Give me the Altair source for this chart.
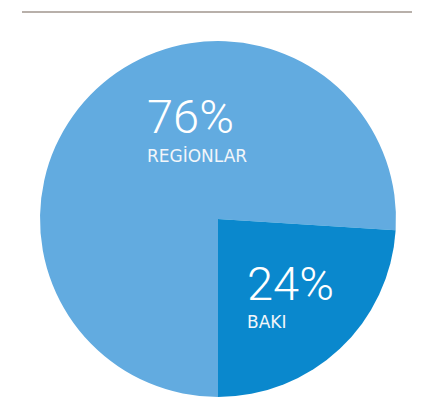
import altair as alt
import pandas as pd

categories = ["REGİONLAR", "BAKI"]
shares = [76, 24]
pct_labels = ["76%", "24%"]
colors = ["#62ABE0", "#0A88CD"]

df = pd.DataFrame({"cat": categories, "share": shares, "order": [0, 1]})

pie = alt.Chart(df).mark_arc(outerRadius=178).encode(
    theta=alt.Theta("share:Q", stack=True, scale=alt.Scale(range=[3.14159265, 9.42477796])),
    order=alt.Order("order:Q"),
    color=alt.Color("cat:N", scale=alt.Scale(domain=categories, range=colors), legend=None),
    x=alt.value(210),
    y=alt.value(211),
)

lab = pd.DataFrame({
    "pct": pct_labels,
    "name": categories,
    "px": [139, 239],
    "py": [125, 292],
    "ny": [154, 320],
})

pct_text = alt.Chart(lab).mark_text(
    align="left", baseline="alphabetic", font="Roboto", fontWeight=300,
    fontSize=47, color="white"
).encode(x=alt.X("px:Q", scale=None), y=alt.Y("py:Q", scale=None), text="pct:N")

name_text = alt.Chart(lab).mark_text(
    align="left", baseline="alphabetic", font="DejaVu Sans",
    fontSize=17, color="#F2F6FA"
).encode(x=alt.X("px:Q", scale=None), y=alt.Y("ny:Q", scale=None), text="name:N")

rule = alt.Chart(pd.DataFrame({"a": [0]})).mark_rule(color="#B8B0AA", strokeWidth=2).encode(
    x=alt.value(14), x2=alt.value(404), y=alt.value(4)
)

chart = alt.layer(pie, pct_text, name_text, rule).properties(
    width=422, height=398, padding=0, autosize=alt.AutoSizeParams(type="none")
).configure_view(stroke=None)

chart.save("out.html", embed_options={"renderer": "svg", "actions": False})
